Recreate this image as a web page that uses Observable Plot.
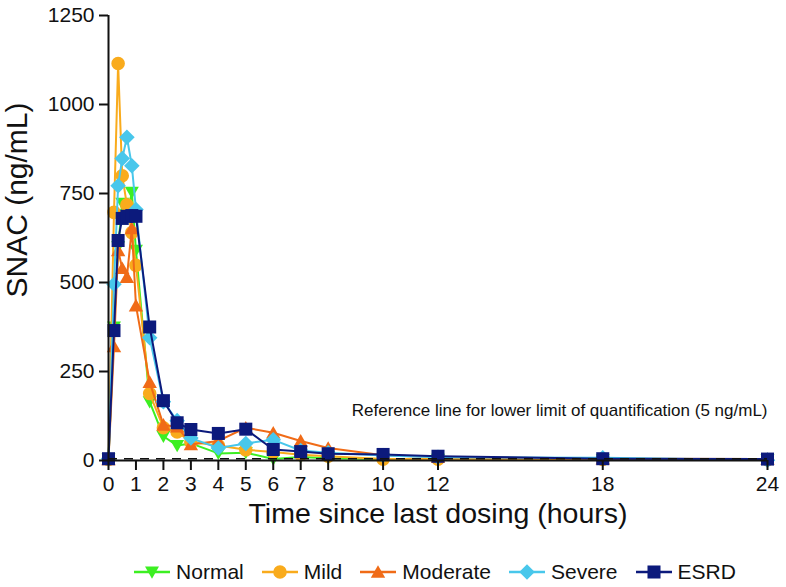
<!DOCTYPE html>
<html><head><meta charset="utf-8">
<script src="https://cdn.jsdelivr.net/npm/d3@7"></script>
<script src="https://cdn.jsdelivr.net/npm/@observablehq/plot@0.6"></script>
<style>
body{margin:0;background:#fff;font-family:"Liberation Sans",Arial,sans-serif;}
#chart svg{display:block;font-family:"Liberation Sans",Arial,sans-serif;}
#legend{display:flex;justify-content:center;align-items:center;height:30px;margin-top:17px;font-size:21px;color:#111;padding-left:84px;}
.item{display:flex;align-items:center;margin:0 9px;}
.item svg{margin-right:6px;display:block}
</style></head><body><div id="chart"></div><div id="legend"></div>
<script>
// sampling times (hours)
const times = [0, 0.2, 0.35, 0.5, 0.67, 0.85, 1, 1.5, 2, 2.5, 3, 4, 5, 6, 7, 8, 10, 12, 18, 24];
const seriesNames = ["Normal", "Mild", "Moderate", "Severe", "ESRD"];
const seriesColors = ["#3cef22", "#f9ab1c", "#f06b17", "#48c7eb", "#0c1a7c"];
const normal   = [4, 375, 600, 722, 690, 753, 590, 165, 68, 42, 48, 20, 22, 4, 10, 6, 4, 3, 2, 2];
const mild     = [3, 697, 1115, 800, 718, 640, 548, 188, 92, 80, 52, 42, 30, 24, 16, 12, 4, 4, 3, 2];
const moderate = [3, 320, 590, 540, 515, 652, 435, 220, 100, 95, 45, 55, 92, 78, 55, 35, 15, 10, 5, 4];
const severe   = [5, 495, 772, 848, 908, 828, 705, 345, 165, 112, 63, 35, 48, 58, 28, 22, 14, 9, 8, 1];
const esrd     = [5, 365, 618, 680, 686, 688, 686, 375, 168, 106, 87, 76, 88, 31, 25, 19, 17, 12, 5, 4];
const xTicks = [0, 1, 2, 3, 4, 5, 6, 7, 8, 10, 12, 18, 24];
const yTicks = [0, 250, 500, 750, 1000, 1250];
const lloq = 5;
const lloqLabel = "Reference line for lower limit of quantification (5 ng/mL)";
const annotX = 24, annotY = 140;
const xLabel = "Time since last dosing (hours)";
const yLabel = "SNAC (ng/mL)";

const seriesValues = [normal, mild, moderate, severe, esrd];

function rad(size){ return Math.sqrt(size / Math.PI); }
const shapes = {
  triDown: {draw(c, s){ const r = rad(s); c.moveTo(-r, -0.8*r); c.lineTo(r, -0.8*r); c.lineTo(0, 0.95*r); c.closePath(); }},
  circle: {draw(c, s){ const r = rad(s); c.moveTo(r, 0); c.arc(0, 0, r, 0, 2*Math.PI); }},
  triUp: {draw(c, s){ const r = rad(s); c.moveTo(-r, 0.8*r); c.lineTo(r, 0.8*r); c.lineTo(0, -0.95*r); c.closePath(); }},
  diamond: {draw(c, s){ const r = rad(s)*1.08; c.moveTo(0, -r); c.lineTo(r, 0); c.lineTo(0, r); c.lineTo(-r, 0); c.closePath(); }},
  square: {draw(c, s){ const r = rad(s)*0.93; c.rect(-r, -r, 2*r, 2*r); }}
};
const seriesShapes = [shapes.triDown, shapes.circle, shapes.triUp, shapes.diamond, shapes.square];
const seriesR = [7, 6.8, 7.2, 7.2, 7];

const tables = seriesValues.map((vals, i) => times.map((t, j) => ({time: t, value: vals[j], group: seriesNames[i]})));

const marks = [];
tables.forEach((tab, i) => {
  marks.push(Plot.line(tab, {x: "time", y: "value", stroke: seriesColors[i], strokeWidth: 2}));
  marks.push(Plot.dot(tab, {x: "time", y: "value", fill: seriesColors[i], stroke: "none", r: seriesR[i], symbol: seriesShapes[i]}));
});
marks.push(
  Plot.ruleY([lloq], {x1: 0, x2: 24, stroke: "#111", strokeWidth: 1.6, strokeDasharray: "9,7"}),
  Plot.ruleX([0], {stroke: "#111", strokeWidth: 2}),
  Plot.ruleY([0], {stroke: "#111", strokeWidth: 2}),
  Plot.axisY(yTicks, {tickSize: 9, tickPadding: 5, fontSize: 21, strokeWidth: 2, color: "#111", label: null, tickFormat: d => String(d)}),
  Plot.axisX(xTicks, {tickSize: 10, tickPadding: 6, fontSize: 21, strokeWidth: 2, color: "#111", label: null, tickFormat: d => String(d)}),
  Plot.text([xLabel], {frameAnchor: "bottom", dy: 62, fontSize: 28.5, fill: "#111"}),
  Plot.text([yLabel], {frameAnchor: "left", textAnchor: "middle", rotate: -90, dx: -91, dy: -38, fontSize: 30, fill: "#111"}),
  Plot.text([lloqLabel], {x: annotX, y: annotY, textAnchor: "end", fontSize: 17, fill: "#111"})
);

const chart = Plot.plot({
  width: 786, height: 540,
  marginLeft: 108, marginRight: 19, marginTop: 15, marginBottom: 80,
  x: {domain: [0, 24]},
  y: {domain: [0, 1250]},
  marks
});
document.getElementById("chart").append(chart);

// legend
const leg = document.getElementById("legend");
seriesNames.forEach((name, i) => {
  const item = document.createElement("div");
  item.className = "item";
  const ns = "http://www.w3.org/2000/svg";
  const svg = document.createElementNS(ns, "svg");
  svg.setAttribute("width", 36); svg.setAttribute("height", 20);
  const line = document.createElementNS(ns, "line");
  line.setAttribute("x1", 0); line.setAttribute("x2", 36); line.setAttribute("y1", 10); line.setAttribute("y2", 10);
  line.setAttribute("stroke", seriesColors[i]); line.setAttribute("stroke-width", 2.5);
  svg.append(line);
  const p = d3.path();
  seriesShapes[i].draw(p, Math.PI * seriesR[i] * seriesR[i]);
  const path = document.createElementNS(ns, "path");
  path.setAttribute("d", p.toString());
  path.setAttribute("transform", "translate(18,10)");
  path.setAttribute("fill", seriesColors[i]);
  svg.append(path);
  const span = document.createElement("span");
  span.textContent = name;
  item.append(svg, span);
  leg.append(item);
});
</script></body></html>
